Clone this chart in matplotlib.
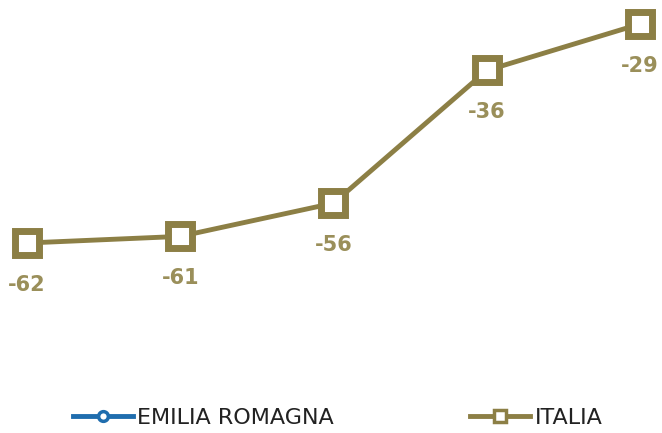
import numpy as np
import matplotlib.pyplot as plt

categories = ['1', '2', '3', '4', '5']
italia = [-62, -61, -56, -36, -29]
emilia = [np.nan, np.nan, np.nan, np.nan, np.nan]  # series present only in legend

olive = '#8C7F45'
label_col = '#9A8F5A'
blue = '#1F6DAE'

fig = plt.figure(figsize=(6.62, 4.33), dpi=100)
ax = fig.add_axes([0, 0, 1, 1])
x = np.arange(len(categories))

l1, = ax.plot(x, emilia, color=blue, lw=3.5, marker='o', ms=7, mfc='white',
              mec=blue, mew=2.5, label='EMILIA ROMAGNA')
l2, = ax.plot(x, italia, color=olive, lw=3.5, marker='s', ms=17, mfc='white',
              mec=olive, mew=5, label='ITALIA', solid_joinstyle='round')

for xi, v in zip(x, italia):
    ax.annotate(str(v), (xi, v), xytext=(0, -30), textcoords='offset points',
                ha='center', va='center', fontsize=15, fontweight='bold',
                color=label_col)

ax.set_xlim(-0.176, 4.1436)
ax.set_ylim(-90.63, -25.38)
ax.axis('off')

# two separate legend entries, placed like the reference
for handle, xpos, msz in [(l1, 73 / 662, 7), (l2, 470 / 662, 9)]:
    leg = fig.legend([handle], [handle.get_label()], loc='center left',
                     bbox_to_anchor=(xpos, 1 - 418 / 433), frameon=False,
                     fontsize=16, handlelength=2.7, handletextpad=0.2,
                     borderpad=0, borderaxespad=0, labelcolor='#222222')
    for h in leg.legend_handles:
        h.set_markersize(msz)
        h.set_markeredgewidth(2.5)

fig.savefig('out.png', dpi=100)
